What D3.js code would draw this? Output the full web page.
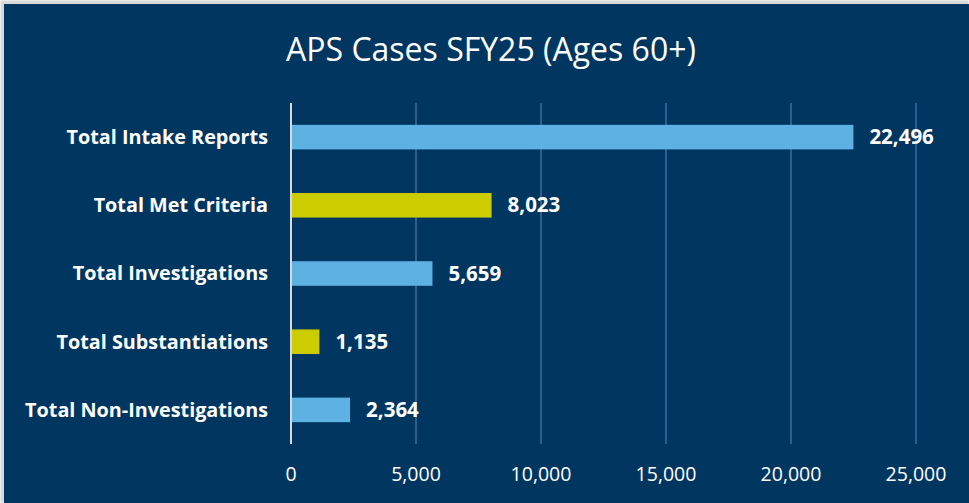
<!DOCTYPE html>
<html>
  <head>
    <meta charset="utf-8">
    <script src="https://d3js.org/d3.v7.min.js"></script>
    <style>
      body { margin: 0; background: #fff; }
      svg text { font-family: 'Open Sans', sans-serif; fill: #fff; }
    </style>
  </head>
  <body>
    <div id="container"></div>
    <script>
      // chart data
      var categories = ["Total Intake Reports", "Total Met Criteria", "Total Investigations",
                        "Total Substantiations", "Total Non-Investigations"];
      var values = [22496, 8023, 5659, 1135, 2364];
      var barColors = ["#5eb1e3", "#cccc00", "#5eb1e3", "#cccc00", "#5eb1e3"];
      var xTicks = [0, 5000, 10000, 15000, 20000, 25000];
      var title = "APS Cases SFY25 (Ages 60+)";

      var width = 969,
          height = 503;

      var margin = { top: 103, right: 53, bottom: 60, left: 291 };

      var svg = d3.select('#container')
        .append('svg')
        .attr('width', width)
        .attr('height', height);

      // outer frame + navy panel
      svg.append('rect')
        .attr('x', 0.5).attr('y', 0.5)
        .attr('width', width - 1).attr('height', height - 1)
        .attr('fill', '#d9d9d9');
      svg.append('rect')
        .attr('x', 4).attr('y', 4)
        .attr('width', width - 4).attr('height', height - 4)
        .attr('fill', '#013661');

      var x = d3.scaleLinear()
        .domain([0, 25000])
        .range([margin.left, width - margin.right]);

      var y = d3.scaleBand()
        .domain(categories)
        .range([margin.top, height - margin.bottom + 1])
        .paddingInner(0.64)
        .paddingOuter(0.32);

      // gridlines
      svg.append('g')
        .selectAll('line')
        .data(xTicks.slice(1))
        .join('line')
        .attr('x1', d => x(d)).attr('x2', d => x(d))
        .attr('y1', margin.top).attr('y2', height - margin.bottom + 1)
        .attr('stroke', '#2f5d8c')
        .attr('stroke-width', 2);

      // bars
      svg.append('g')
        .selectAll('rect')
        .data(values)
        .join('rect')
        .attr('x', x(0))
        .attr('y', (d, i) => y(categories[i]))
        .attr('width', d => x(d) - x(0))
        .attr('height', y.bandwidth())
        .attr('fill', (d, i) => barColors[i]);

      // zero axis line
      svg.append('line')
        .attr('x1', x(0)).attr('x2', x(0))
        .attr('y1', margin.top).attr('y2', height - margin.bottom + 1)
        .attr('stroke', '#d9d9d9')
        .attr('stroke-width', 2);

      // value labels
      var fmt = d3.format(',');
      svg.append('g')
        .selectAll('text')
        .data(values)
        .join('text')
        .attr('x', d => x(d) + 16)
        .attr('y', (d, i) => y(categories[i]) + y.bandwidth() / 2)
        .attr('dy', '0.35em')
        .attr('font-size', 20.5)
        .attr('font-weight', 'bold')
        .text(d => fmt(d));

      // category labels
      svg.append('g')
        .selectAll('text')
        .data(categories)
        .join('text')
        .attr('x', x(0) - 23)
        .attr('y', d => y(d) + y.bandwidth() / 2)
        .attr('dy', '0.35em')
        .attr('text-anchor', 'end')
        .attr('font-size', 19.8)
        .attr('font-weight', 'bold')
        .text(d => d);

      // x tick labels
      svg.append('g')
        .selectAll('text')
        .data(xTicks)
        .join('text')
        .attr('x', d => x(d))
        .attr('y', 474)
        .attr('dy', '0.35em')
        .attr('text-anchor', 'middle')
        .attr('font-size', 19.5)
        .text(d => fmt(d));

      // title
      svg.append('text')
        .attr('x', 491)
        .attr('y', 50)
        .attr('dy', '0.35em')
        .attr('text-anchor', 'middle')
        .attr('font-size', 32)
        .text(title);
    </script>
  </body>
</html>
